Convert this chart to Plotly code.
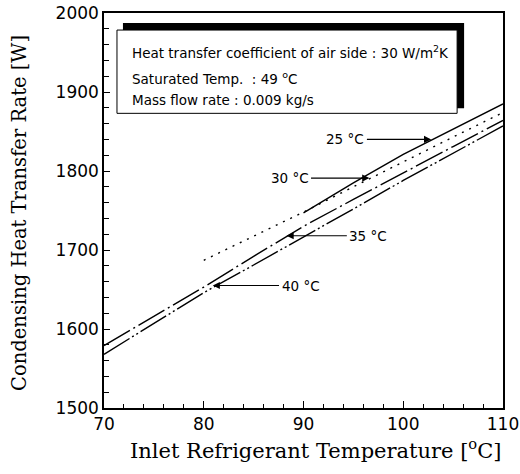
import plotly.graph_objects as go

# ---- data ----
T_25 = [90, 95, 100, 105, 110]
Q_25 = [1747, 1785, 1821, 1853, 1885]
T_30 = [80, 85, 90, 95, 100, 105, 110]
Q_30 = [1687, 1717, 1748, 1780, 1812, 1843, 1874]
T_35 = [70, 75, 80, 85, 90, 95, 100, 105, 110]
Q_35 = [1579, 1616, 1653, 1692, 1730, 1764, 1798, 1831, 1864]
T_40 = [70, 75, 80, 85, 90, 95, 100, 105, 110]
Q_40 = [1568, 1607, 1646, 1681, 1716, 1752, 1788, 1823, 1857]

x_ticks = [70, 80, 90, 100, 110]
y_ticks = [1500, 1600, 1700, 1800, 1900, 2000]

info_lines = [
    "Heat transfer coefficient of air side : 30 W/m<sup>2</sup>K",
    "Saturated Temp.  : 49 <sup>o</sup>C",
    "Mass flow rate : 0.009 kg/s",
]
labels = ["25 \u00b0C", "30 \u00b0C", "35 \u00b0C", "40 \u00b0C"]
x_title = "Inlet Refrigerant Temperature [<sup>o</sup>C]"
y_title = "Condensing Heat Transfer Rate [W]"

fig = go.Figure()
lw = 1.4
fig.add_trace(go.Scatter(x=T_25, y=Q_25, mode="lines", line=dict(color="black", width=lw, dash="solid")))
fig.add_trace(go.Scatter(x=T_30, y=Q_30, mode="lines", line=dict(color="black", width=lw, dash="2px,6px")))
fig.add_trace(go.Scatter(x=T_35, y=Q_35, mode="lines", line=dict(color="black", width=lw, dash="30px,4px,2px,4px")))
fig.add_trace(go.Scatter(x=T_40, y=Q_40, mode="lines", line=dict(color="black", width=lw, dash="30px,3px,2px,3px,2px,3px")))

# info box with shadow
fig.add_shape(type="rect", x0=71.9, x1=106.1, y0=1879.4, y1=1987.3, xref="x", yref="y",
              fillcolor="black", line=dict(width=0), layer="above")
fig.add_shape(type="rect", x0=71.3, x1=105.4, y0=1873, y1=1978.4, xref="x", yref="y",
              fillcolor="white", line=dict(color="black", width=1), layer="above")

sans = "DejaVu Sans"
tf = dict(family=sans, size=13.5, color="black")
for txt, yy in zip(info_lines, [1950.5, 1917.5, 1889.6]):
    fig.add_annotation(x=72.6, y=yy, text=txt, showarrow=False, xanchor="left", yanchor="middle",
                       font=tf, xref="x", yref="y")

# labels with arrows: (text centre x, tip x, y)
lab_pos = [
    (94.2, 102.8, 1840),
    (88.6, 96.6, 1791),
    (96.5, 88.3, 1718),
    (89.7, 80.9, 1655),
]
for lab, (tx, x_tip, yy) in zip(labels, lab_pos):
    fig.add_annotation(x=x_tip, y=yy, ax=tx, ay=yy, axref="x", ayref="y", xref="x", yref="y",
                       text=lab, showarrow=True, arrowhead=2, arrowsize=1.3, arrowwidth=1.1,
                       arrowcolor="black", font=tf, borderpad=2)

axis_font = dict(family=sans, size=17, color="black")
serif = "DejaVu Serif"

fig.add_annotation(text=x_title, x=0.531, y=-0.104, xref="paper", yref="paper",
                   showarrow=False, xanchor="center", yanchor="middle",
                   font=dict(family=serif, size=21, color="black"))
fig.add_annotation(text=y_title, x=-0.2105, y=0.494, xref="paper", yref="paper",
                   showarrow=False, xanchor="center", yanchor="middle", textangle=-90,
                   font=dict(family=serif, size=19.5, color="black"))

fig.update_xaxes(range=[70, 110], tickvals=x_ticks, ticktext=[str(v) for v in x_ticks],
                 ticks="inside", ticklen=7, tickwidth=1, tickcolor="black",
                 minor=dict(dtick=2, ticks="inside", ticklen=4, tickcolor="black"),
                 showline=True, linecolor="black", linewidth=1.5, mirror=True,
                 showgrid=False, zeroline=False, tickfont=axis_font, automargin=False)
fig.update_yaxes(range=[1500, 2000], tickvals=y_ticks, ticktext=[str(v) for v in y_ticks],
                 ticks="inside", ticklen=6, tickwidth=1, tickcolor="black",
                 minor=dict(dtick=20, ticks="inside", ticklen=5, tickcolor="black"),
                 showline=True, linecolor="black", linewidth=1.5, mirror=True,
                 showgrid=False, zeroline=False, tickfont=axis_font, automargin=False)

fig.update_layout(width=520, height=474, margin=dict(l=104, r=17, t=13, b=66),
                  paper_bgcolor="white", plot_bgcolor="white", showlegend=False)

fig.write_html("out.html", config={"displayModeBar": False})
